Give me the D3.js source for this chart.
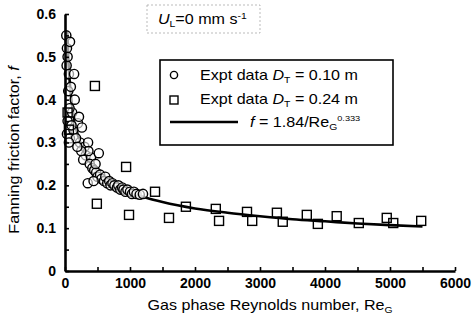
<!DOCTYPE html>
<html><head><meta charset="utf-8">
<script src="https://cdn.jsdelivr.net/npm/d3@7/dist/d3.min.js"></script>
<style>
html,body{margin:0;padding:0;background:#fff;}
svg{display:block;font-family:"Liberation Sans",Arial,sans-serif;}
</style></head>
<body>
<svg id="c" width="472" height="325"></svg>
<script>
// ---- data ----
const xTicks = [0,1000,2000,3000,4000,5000,6000];
const xMinorTicks = [500,1500,2500,3500,4500,5500];
const yTicks = [0,0.1,0.2,0.3,0.4,0.5,0.6];
const yMinorTicks = [0.05,0.15,0.25,0.35,0.45,0.55];
// Expt data D_T = 0.10 m (Re_G, f)
const circlesRe = [20,30,25,40,77,60,140,50,90,150,110,70,40,30,75,130,200,215,260,230,170,300,355,320,280,400,520,350,380,420,450,480,500,540,560,600,620,650,680,700,730,760,800,820,850,880,900,930,960,1000,1030,1060,1100,1150,1200,440,470,360,250,190,100,60];
const circlesF  = [0.55,0.52,0.48,0.50,0.535,0.46,0.46,0.42,0.43,0.40,0.37,0.38,0.35,0.32,0.31,0.33,0.345,0.36,0.335,0.30,0.31,0.29,0.30,0.27,0.26,0.265,0.275,0.205,0.25,0.24,0.235,0.23,0.22,0.225,0.215,0.21,0.22,0.205,0.21,0.20,0.205,0.20,0.195,0.20,0.19,0.195,0.19,0.185,0.19,0.185,0.18,0.185,0.18,0.178,0.18,0.21,0.25,0.28,0.28,0.29,0.34,0.30];
// Expt data D_T = 0.24 m
const squaresRe = [40,60,460,490,940,985,1385,1600,1860,2320,2370,2800,2880,3260,3350,3720,3890,4180,4520,4950,5050,5480];
const squaresF  = [0.37,0.33,0.432,0.157,0.243,0.131,0.185,0.124,0.150,0.145,0.117,0.138,0.117,0.136,0.115,0.131,0.110,0.128,0.112,0.124,0.112,0.117];
// fitted curve f = 1.84/Re^0.333
const fitRe = [35,50,75,100,150,200,300,400,500,600,800,1000,1250,1500,2000,2500,3000,3500,4000,4500,5000,5500];
const fitF  = [0.56,0.50,0.437,0.397,0.347,0.316,0.276,0.250,0.232,0.219,0.199,0.184,0.171,0.161,0.146,0.136,0.128,0.121,0.116,0.111,0.107,0.104];

const svg = d3.select("#c");
const x = d3.scaleLinear().domain([0,6000]).range([65,455]);
const y = d3.scaleLinear().domain([0,0.6]).range([271,14]);
const SX = 1.15;

function stext(parent, tx, ty, html, opt={}) {
  const g = parent.append("g").attr("transform",
    `translate(${tx},${ty}) rotate(${opt.rotate||0}) scale(${SX},1)`);
  g.append("text").attr("x",0).attr("y",0).attr("font-size",opt.size||14)
    .attr("text-anchor",opt.anchor||"start").attr("fill","#000").html(html);
  return g;
}

// fit line
const line = d3.line().x(d=>x(d[0])).y(d=>y(d[1])).curve(d3.curveMonotoneX);
svg.append("path").datum(d3.zip(fitRe,fitF)).attr("d",line)
  .attr("fill","none").attr("stroke","#000").attr("stroke-width",2.6);

// circles
svg.append("g").selectAll("circle").data(d3.zip(circlesRe,circlesF)).join("circle")
  .attr("cx",d=>x(d[0])).attr("cy",d=>y(d[1])).attr("r",4.6)
  .attr("fill","#fff").attr("fill-opacity",0.6).attr("stroke","#000").attr("stroke-width",1.4);

// squares
const s = 9;
svg.append("g").selectAll("rect").data(d3.zip(squaresRe,squaresF)).join("rect")
  .attr("x",d=>x(d[0])-s/2).attr("y",d=>y(d[1])-s/2).attr("width",s).attr("height",s)
  .attr("fill","none").attr("stroke","#000").attr("stroke-width",1.4);

// axes
svg.append("g").attr("transform",`translate(0,${y(0)})`)
  .call(d3.axisBottom(x).tickValues(xTicks).tickSizeInner(-4).tickSizeOuter(0).tickPadding(7).tickFormat(d3.format("d")));
svg.append("g").attr("transform",`translate(0,${y(0)})`)
  .call(d3.axisBottom(x).tickValues(xMinorTicks).tickSizeInner(-4).tickSizeOuter(0).tickFormat(""))
  .select(".domain").remove();
svg.append("g").attr("transform",`translate(${x(0)},0)`)
  .call(d3.axisLeft(y).tickValues(yTicks).tickSizeInner(-4).tickSizeOuter(0).tickPadding(9).tickFormat(d=>d===0?"0":d3.format(".1f")(d)));
svg.append("g").attr("transform",`translate(${x(0)},0)`)
  .call(d3.axisLeft(y).tickValues(yMinorTicks).tickSizeInner(-4).tickSizeOuter(0).tickFormat(""))
  .select(".domain").remove();
svg.selectAll(".domain").attr("stroke-width",2.6);
svg.selectAll(".tick line").attr("stroke-width",1.6);
svg.selectAll(".tick text").attr("font-size",14).attr("font-family","Liberation Sans,Arial,sans-serif").attr("fill","#000").attr("font-weight","bold");

// axis titles
stext(svg, 270, 310, 'Gas phase Reynolds number, Re<tspan font-size="9" dy="3">G</tspan>', {anchor:"middle"});
stext(svg, 19, 150, 'Fanning friction factor, <tspan font-style="italic">f</tspan>', {anchor:"middle", rotate:-90});

// U_L label
svg.append("rect").attr("x",147).attr("y",5).attr("width",113).attr("height",28)
  .attr("fill","none").attr("stroke","#aaa").attr("stroke-width",0.8).attr("stroke-dasharray","2,2");
stext(svg, 158, 24, '<tspan font-style="italic">U</tspan><tspan font-size="9" dy="3">L</tspan><tspan dy="-3">=0 mm s</tspan><tspan font-size="9" dy="-5">-1</tspan>');

// legend
const lg = svg.append("g");
lg.append("rect").attr("x",160).attr("y",60).attr("width",233).attr("height",85)
  .attr("fill","#fff").attr("stroke","#000").attr("stroke-width",1.6);
lg.append("circle").attr("cx",174).attr("cy",75).attr("r",3.6).attr("fill","none").attr("stroke","#000").attr("stroke-width",1.4);
lg.append("rect").attr("x",170).attr("y",96).attr("width",8).attr("height",8).attr("fill","none").attr("stroke","#000").attr("stroke-width",1.4);
lg.append("line").attr("x1",170).attr("x2",238).attr("y1",122).attr("y2",122).attr("stroke","#000").attr("stroke-width",2.6);
stext(lg, 200, 80, 'Expt data <tspan font-style="italic">D</tspan><tspan font-size="9" dy="3">T</tspan><tspan dy="-3"> = 0.10 m</tspan>');
stext(lg, 200, 104, 'Expt data <tspan font-style="italic">D</tspan><tspan font-size="9" dy="3">T</tspan><tspan dy="-3"> = 0.24 m</tspan>');
stext(lg, 250, 127, '<tspan font-style="italic">f</tspan> = 1.84/Re<tspan font-size="9" dy="3">G</tspan><tspan font-size="8" dy="-9">0.333</tspan>');
</script>
</body></html>
